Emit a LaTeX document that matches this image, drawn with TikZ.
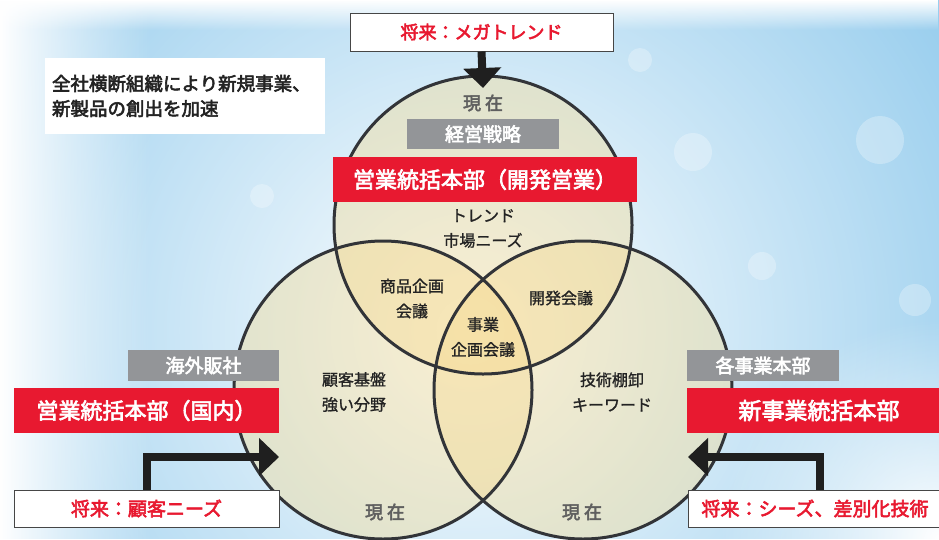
\documentclass[tikz,border=0pt]{standalone}
\usepackage{fontspec}
\setmainfont{Noto Sans CJK JP}
\newfontfamily\labelfont{Noto Sans CJK JP}[FakeBold=3]
\newfontfamily\bodyfont{Noto Sans CJK JP}[FakeBold=1.2]
\usetikzlibrary{arrows.meta,fadings}

\definecolor{brandred}{RGB}{232,25,48}
\definecolor{labelgray}{RGB}{147,149,152}
\definecolor{skyblue}{RGB}{140,200,236}
\definecolor{ringfill}{RGB}{245,218,145}
\definecolor{ringline}{RGB}{50,52,56}
\definecolor{inktext}{RGB}{35,35,35}
\definecolor{softtext}{RGB}{95,95,95}
\definecolor{boxline}{RGB}{70,70,70}

\tikzfading[name=glow, inner color=transparent!0, outer color=transparent!100]
\tikzfading[name=fadeleft, left color=transparent!0, right color=transparent!100]
\tikzfading[name=fadetop, top color=transparent!0, bottom color=transparent!100]

\begin{document}
\begin{tikzpicture}[x=1pt, y=-1pt,
  ring/.style={draw=ringline, line width=3pt},
  ringshade/.style={fill=ringfill, fill opacity=0.40},
  redbar/.style={fill=brandred, text=white, inner sep=0pt, minimum height=45pt,
    font=\labelfont\fontsize{22}{24}\selectfont},
  graybar/.style={fill=labelgray, text=white, inner sep=0pt,
    font=\labelfont\fontsize{19}{21}\selectfont},
  futurebox/.style={fill=white, draw=boxline, line width=1pt, inner sep=0pt,
    text=brandred, font=\labelfont\fontsize{19}{21}\selectfont},
  areatext/.style={text=inktext, align=center, font=\bodyfont\fontsize{16}{25}\selectfont},
  nowtext/.style={text=softtext, font=\labelfont\fontsize{18}{20}\selectfont},
  bigarrow/.style={draw=black!88, line width=8pt,
    -{Triangle[width=37pt,length=20pt]}},
  bokeh/.style={fill=white, fill opacity=0.28}
]
\useasboundingbox (0,0) rectangle (939,539);

% sky background with soft light
\fill[skyblue] (0,0) rectangle (939,539);
\fill[white, path fading=glow] (470,330) circle[radius=640pt];
\fill[white, path fading=fadeleft] (0,0) rectangle (150,539);
\fill[white, path fading=fadetop] (0,0) rectangle (939,30);
\fill[white, path fading=glow] (939,539) circle[radius=220pt];

% bokeh spots
\fill[bokeh] (880,140) circle[radius=24pt];
\fill[bokeh] (693,152) circle[radius=19pt];
\fill[bokeh] (762,266) circle[radius=14pt];
\fill[bokeh] (262,196) circle[radius=12pt];
\fill[bokeh] (915,300) circle[radius=16pt];
\fill[bokeh] (640,60) circle[radius=12pt];

% three overlapping circles
\coordinate (ctop) at (483,225);
\coordinate (cleft) at (383,390);
\coordinate (cright) at (583,390);
\fill[ringshade] (ctop) circle[radius=149pt];
\fill[ringshade] (cleft) circle[radius=149pt];
\fill[ringshade] (cright) circle[radius=149pt];
\draw[ring] (ctop) circle[radius=149pt];
\draw[ring] (cleft) circle[radius=149pt];
\draw[ring] (cright) circle[radius=149pt];

% texts inside the circles
\node[nowtext] (nowtop) at (483,103) {現\hspace{4pt}在};
\node[nowtext] (nowleft) at (385,512) {現\hspace{4pt}在};
\node[nowtext] (nowright) at (582,512) {現\hspace{4pt}在};
\node[areatext] (trend) at (483,228.5) {トレンド\\市場ニーズ};
\node[areatext] (product) at (412,298.5) {商品企画\\会議};
\node[areatext] (develop) at (561,298) {開発会議};
\node[areatext] (business) at (483,337) {事業\\企画会議};
\node[areatext] (customer) at (354,392) {顧客基盤\\強い分野};
\node[areatext] (tech) at (612,392) {技術棚卸\\キーワード};

% note
\node[fill=white, text=inktext, text width=266pt, align=left, inner xsep=7pt,
  minimum height=76pt, font=\labelfont\fontsize{18.5}{25}\selectfont] (note) at (185,96)
  {全社横断組織により新規事業、\\新製品の創出を加速};

% top organisation
\node[futurebox, minimum width=263pt, minimum height=38pt, font=\labelfont\fontsize{18}{20}\selectfont]
  (topfuture) at (481.5,32) {将来：メガトレンド};
\node[graybar, minimum width=152pt, minimum height=30pt] (topgray) at (483,134) {経営戦略};
\node[redbar, minimum width=304pt] (topred) at (485,179.5) {営業統括本部（開発営業）};

% left organisation
\node[graybar, minimum width=151pt, minimum height=31pt] (leftgray) at (203.5,365.5) {海外販社};
\node[redbar, minimum width=265pt] (leftred) at (146.5,410.5) {営業統括本部（国内）};
\node[futurebox, minimum width=265pt, minimum height=37pt] (leftfuture) at (146.5,508.5) {将来：顧客ニーズ};

% right organisation
\node[graybar, minimum width=152pt, minimum height=31pt] (rightgray) at (763,365.5) {各事業本部};
\node[redbar, minimum width=264pt, font=\labelfont\fontsize{23}{25}\selectfont] (rightred) at (819,410.5) {新事業統括本部};
\node[futurebox, anchor=west, text width=250pt, align=left, inner xsep=13pt,
  minimum height=37pt] (rightfuture) at (688,508.5) {将来：シーズ、差別化技術};

% arrows from the future views into the circles
\coordinate (toptip) at (483,88);
\coordinate (lefttip) at (279,457);
\coordinate (righttip) at (688,457);
\draw[bigarrow] (topfuture.south) -- (toptip);
\draw[bigarrow] ([xshift=133pt]leftfuture.north west) |- (lefttip);
\draw[bigarrow] ([xshift=132pt]rightfuture.north west) |- (righttip);
\end{tikzpicture}
\end{document}
